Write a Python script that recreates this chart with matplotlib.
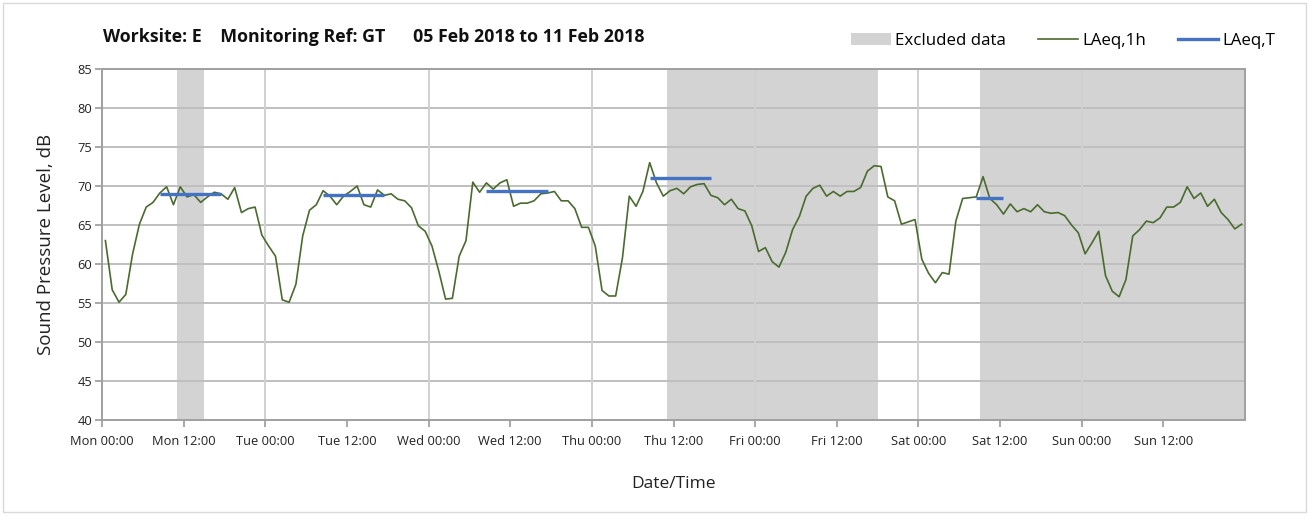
import matplotlib
matplotlib.use("Agg")
import matplotlib.pyplot as plt
from matplotlib.patches import Patch
from matplotlib.lines import Line2D
import numpy as np

plt.rcParams['font.family'] = ['Open Sans', 'DejaVu Sans']

# Hourly LAeq,1h values (dB), Mon 00:00 .. Sun 23:00, plotted at mid-hour
laeq_1h = [
    63.0, 56.7, 55.1, 56.1, 61.3, 65.1, 67.3, 67.9, 69.1, 69.9, 67.6, 69.9,
    68.6, 68.9, 67.9, 68.6, 69.2, 69.0, 68.3, 69.8, 66.6, 67.1, 67.3, 63.7,
    62.3, 61.0, 55.4, 55.1, 57.4, 63.6, 66.9, 67.6, 69.4, 68.7, 67.6, 68.7,
    69.3, 70.0, 67.6, 67.3, 69.5, 68.8, 69.0, 68.3, 68.1, 67.2, 64.9, 64.2,
    62.3, 59.1, 55.5, 55.6, 61.0, 63.0, 70.5, 69.2, 70.4, 69.6, 70.4, 70.8,
    67.4, 67.8, 67.8, 68.1, 69.0, 69.1, 69.3, 68.1, 68.1, 67.1, 64.7, 64.7,
    62.3, 56.6, 55.9, 55.9, 60.8, 68.7, 67.4, 69.3, 73.0, 70.4, 68.7, 69.4,
    69.7, 69.0, 69.9, 70.2, 70.3, 68.8, 68.5, 67.6, 68.3, 67.1, 66.8, 64.9,
    61.6, 62.1, 60.3, 59.6, 61.5, 64.4, 66.1, 68.7, 69.7, 70.1, 68.7, 69.3,
    68.7, 69.3, 69.3, 69.8, 71.9, 72.6, 72.5, 68.6, 68.1, 65.1, 65.4, 65.7,
    60.6, 58.8, 57.6, 58.9, 58.7, 65.5, 68.4, 68.5, 68.6, 71.2, 68.4, 67.6,
    66.4, 67.7, 66.7, 67.1, 66.7, 67.6, 66.7, 66.5, 66.6, 66.2, 65.0, 64.0,
    61.3, 62.7, 64.2, 58.5, 56.5, 55.8, 58.0, 63.6, 64.4, 65.5, 65.3, 65.9,
    67.3, 67.3, 67.9, 69.9, 68.4, 69.1, 67.4, 68.3, 66.6, 65.7, 64.5, 65.1,
]

# LAeq,T periods: (start hour, end hour, level dB)
laeq_t_start = [8.5, 32.5, 56.5, 80.5, 128.5]
laeq_t_end = [17.5, 41.5, 65.5, 89.5, 132.5]
laeq_t_value = [69.0, 68.8, 69.3, 71.0, 68.5]

# Excluded data periods (hours from Mon 00:00)
excl_start = [11, 83, 129]
excl_end = [15, 114, 168]

tick_labels = ["Mon 00:00", "Mon 12:00", "Tue 00:00", "Tue 12:00", "Wed 00:00",
               "Wed 12:00", "Thu 00:00", "Thu 12:00", "Fri 00:00", "Fri 12:00",
               "Sat 00:00", "Sat 12:00", "Sun 00:00", "Sun 12:00"]

hours = np.arange(len(laeq_1h)) + 0.5

fig = plt.figure(figsize=(13.09, 5.17), dpi=100)
ax = fig.add_axes([102/1309, 1-420/517, (1245-102)/1309, (420-69)/517])

shade = '#D3D3D3'
for s, e in zip(excl_start, excl_end):
    ax.axvspan(s, e, color=shade, lw=0, zorder=0)

# grid
for v in range(45, 86, 5):
    ax.axhline(v, color='#BFBFBF', lw=1.4, zorder=1)
for d in range(24, 168, 24):
    ax.axvline(d, color='#D0D0D0', lw=1.4, zorder=1)

ax.plot(hours, laeq_1h, color='#4A6B2E', lw=1.2, zorder=3)
for s, e, v in zip(laeq_t_start, laeq_t_end, laeq_t_value):
    ax.plot([s, e], [v, v], color='#4472C4', lw=2.4, zorder=4, solid_capstyle='butt')

ax.set_xlim(0, 168)
ax.set_ylim(40, 85)
ax.set_xticks(np.arange(0, 168, 12))
ax.set_xticklabels(tick_labels, fontsize=9.3)
ax.set_yticks(np.arange(40, 86, 5))
ax.tick_params(axis='both', direction='out', length=5, color='#999999', width=1.2,
               labelsize=9.3, labelcolor='#222222')
ax.tick_params(axis='x', pad=6)
ax.tick_params(axis='y', pad=2)
for sp in ax.spines.values():
    sp.set_color('#A0A0A0')
    sp.set_linewidth(1.4)

ax.set_ylabel("Sound Pressure Level, dB", fontsize=13.5, color='#222222', labelpad=16)
ax.set_xlabel("Date/Time", fontsize=12.5, color='#222222', labelpad=20)

fig.text(103/1309, 1-37/517, "Worksite: E    Monitoring Ref: GT      05 Feb 2018 to 11 Feb 2018",
         fontsize=12.8, fontweight='bold', va='center', ha='left', color='#111111')

handles = [Patch(facecolor=shade, edgecolor='none'),
           Line2D([0], [0], color='#4A6B2E', lw=1.2),
           Line2D([0], [0], color='#4472C4', lw=2.4)]
fig.legend(handles, ["Excluded data", "LAeq,1h", "LAeq,T"], ncol=3, frameon=False,
           loc='center right', bbox_to_anchor=(1290/1309, 1-41/517), fontsize=12.2,
           handlelength=2.4, handletextpad=0.2, columnspacing=1.9)

# figure border
fig.patches.append(plt.Rectangle((3/1309, 5/517), 1303/1309, 509/517, transform=fig.transFigure,
                                 fill=False, edgecolor='#D9D9D9', lw=1.0))

fig.savefig("out.png", dpi=100, facecolor='white')
